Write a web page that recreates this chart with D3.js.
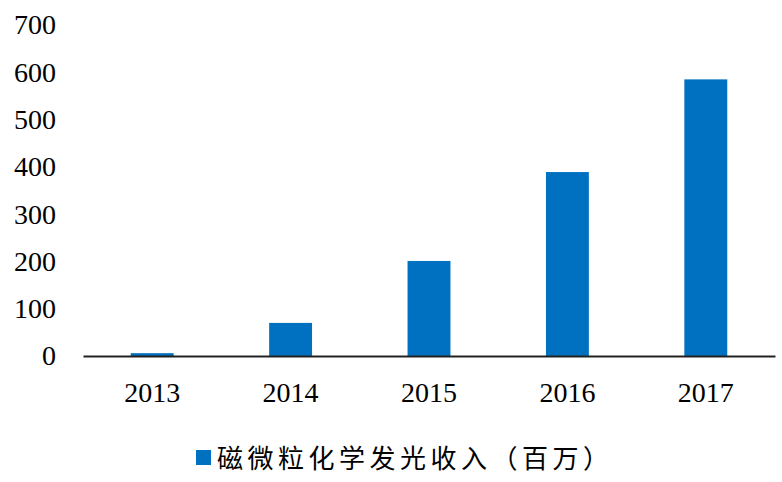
<!DOCTYPE html>
<html><head><meta charset="utf-8">
<script src="https://cdn.jsdelivr.net/npm/d3@7/dist/d3.min.js"></script>
<style>body{margin:0;background:#fff}</style>
</head><body>
<svg id="c" width="782" height="482"></svg>
<script>
const categories = ["2013","2014","2015","2016","2017"];
const values = [6, 70, 201, 389, 585];
const yTicks = [0,100,200,300,400,500,600,700];
const seriesName = "磁微粒化学发光收入（百万）";

(function(){
const svg = d3.select("#c");
const mLeft = 83, mRight = 775, mTop = 25, mBottom = 356;
const x = d3.scaleBand().domain(categories).range([mLeft, mRight]).paddingInner(0.69).paddingOuter(0.345);
const y = d3.scaleLinear().domain([0,700]).range([mBottom, mTop]);

svg.selectAll("rect.bar").data(values).join("rect")
  .attr("class","bar")
  .attr("x",(d,i)=>x(categories[i]))
  .attr("width",x.bandwidth())
  .attr("y",d=>y(d))
  .attr("height",d=>y(0)-y(d))
  .attr("fill","#0070C0");

const yAxis = svg.append("g").attr("transform",`translate(56,0)`)
  .call(d3.axisLeft(y).tickValues(yTicks).tickSize(0).tickPadding(0));
yAxis.attr("font-size",null).attr("font-family",null);
yAxis.select(".domain").remove();
yAxis.selectAll("text").style("font-family","'Liberation Serif', serif").style("font-size","28px").attr("fill","#000");

const xAxis = svg.append("g").attr("transform",`translate(0,${mBottom})`)
  .call(d3.axisBottom(x).tickSize(0).tickPadding(26));
xAxis.attr("font-size",null).attr("font-family",null);
xAxis.select(".domain").attr("stroke","#222").attr("stroke-width",2);
xAxis.selectAll("text").style("font-family","'Liberation Serif', serif").style("font-size","28px").attr("fill","#000");

const lg = svg.append("g");
lg.append("rect").attr("x",196).attr("y",450).attr("width",15).attr("height",15).attr("fill","#0070C0");
lg.append("text").attr("x",217).attr("y",468).text(seriesName)
  .style("letter-spacing","4.5px")
  .style("font-family","'Noto Sans CJK SC', sans-serif").style("font-size","26px").attr("fill","#000");
})();
</script>
</body></html>
